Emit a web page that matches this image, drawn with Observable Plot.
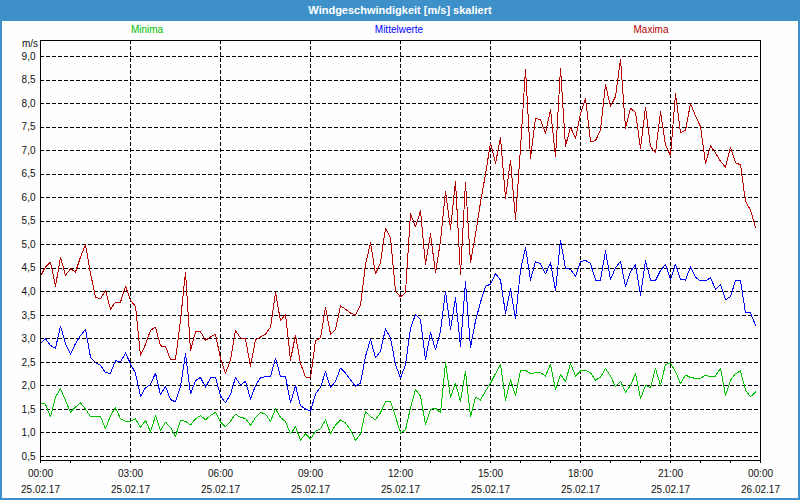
<!DOCTYPE html>
<html>
<head>
<meta charset="utf-8">
<script src="https://cdn.jsdelivr.net/npm/d3@7"></script>
<script src="https://cdn.jsdelivr.net/npm/@observablehq/plot@0.6"></script>
<style>
  html, body { margin: 0; padding: 0; background: #ffffff; }
  #wrap { position: relative; width: 800px; height: 500px; overflow: hidden; background: #fdfefd; font-family: "Liberation Sans", Arial, sans-serif; }
  #border { position: absolute; left: 0; top: 0; width: 800px; height: 500px; box-sizing: border-box; border: 2px solid #3e91c8; pointer-events: none; z-index: 5; }
  #title { position: absolute; left: 0; top: 0; width: 800px; height: 21px; background: #3e91c8; color: #ffffff; font-size: 11px; font-weight: bold; text-align: center; line-height: 21px; z-index: 6; }
  .leg { position: absolute; top: 24px; font-size: 10px; transform: translateX(-50%); white-space: nowrap; }
  #unit { position: absolute; left: 22px; top: 38px; font-size: 10px; color: #111; }
  #chart { position: absolute; left: 0; top: 21px; }
</style>
</head>
<body>
<div id="wrap">
  <div id="title"></div>
  <div id="legend"></div>
  <div id="unit"></div>
  <div id="chart"></div>
  <div id="border"></div>
</div>
<script>
const chartTitle = "Windgeschwindigkeit [m/s] skaliert";
const unitLabel = "m/s";
const seriesNames = ["Minima", "Mittelwerte", "Maxima"];
const seriesColors = ["#00c000", "#0000ff", "#b80000"];
const legendX = [147, 399, 651];

// 10-minute samples, 25.02.17 00:00 .. 23:50
const maxima = [
  4.33,4.53,4.63,4.12,4.73,4.35,4.49,4.42,4.74,5.0,
  4.39,3.89,3.85,4.03,3.63,3.78,3.78,4.12,3.82,3.69,
  2.65,2.88,3.18,3.25,2.85,2.84,2.56,2.56,3.4,4.42,
  2.75,3.15,3.15,2.97,3.04,3.1,2.58,2.27,2.55,3.18,
  3.02,3.0,2.42,2.98,3.04,3.1,3.25,3.99,3.38,3.52,
  2.55,3.08,2.48,2.19,2.17,2.96,3.02,3.67,3.1,3.2,
  3.7,3.63,3.55,3.5,3.72,4.58,5.04,4.38,4.62,5.35,
  5.15,4.01,3.89,3.98,5.66,5.38,5.72,4.58,5.23,4.4,
  5.08,6.14,5.33,6.35,4.37,6.33,4.62,5.22,5.9,6.5,
  7.16,6.73,7.28,5.99,6.8,5.54,7.05,8.73,6.84,7.69,
  7.65,7.37,7.87,6.87,8.75,7.09,7.5,7.26,7.79,8.11,
  7.19,7.21,7.44,8.4,7.94,8.15,8.94,7.48,7.9,7.81,
  7.05,7.92,7.09,6.95,7.83,7.12,6.89,8.21,7.38,7.43,
  8.0,7.74,7.51,6.73,7.1,6.95,6.77,6.65,7.07,6.74,
  6.7,5.92,5.74,5.37
];
const mittelwerte = [
  2.91,3.0,2.86,2.8,3.27,2.9,2.67,2.9,3.07,3.2,
  2.61,2.49,2.44,2.28,2.27,2.54,2.51,2.7,2.47,2.27,
  1.78,1.96,2.03,2.27,1.81,1.99,1.71,1.66,1.98,2.68,
  1.83,2.11,2.18,1.97,2.17,2.18,1.79,1.64,1.82,2.18,
  2.02,2.1,1.72,2.01,2.17,2.2,2.2,2.59,2.2,2.2,
  1.64,2.01,1.58,1.51,1.46,1.83,1.97,2.3,1.96,2.1,
  2.38,2.27,2.13,1.99,2.06,2.63,2.99,2.6,2.74,3.21,
  3.02,2.45,2.17,2.45,3.23,3.52,3.41,2.56,3.13,2.77,
  3.16,4.01,3.2,3.87,2.84,4.21,2.82,3.38,3.78,4.12,
  4.16,4.39,4.25,3.54,4.07,3.43,4.46,4.94,4.25,4.64,
  4.6,4.38,4.62,4.02,5.09,4.5,4.48,4.33,4.64,4.67,
  4.6,4.25,4.25,4.87,4.26,4.51,4.65,4.12,4.43,4.57,
  3.93,4.66,4.25,4.24,4.45,4.58,4.26,4.59,4.26,4.25,
  4.53,4.31,4.23,4.23,4.3,4.05,4.16,3.83,3.9,4.24,
  4.24,3.55,3.55,3.29
];
const minima = [
  1.64,1.61,1.34,1.76,1.94,1.69,1.44,1.55,1.64,1.51,
  1.35,1.35,1.35,1.09,1.37,1.54,1.3,1.25,1.25,1.3,
  1.12,1.27,1.02,1.37,1.05,1.23,1.12,0.93,1.27,1.25,
  1.17,1.3,1.37,1.28,1.37,1.44,1.23,1.13,1.25,1.4,
  1.33,1.31,1.16,1.33,1.44,1.4,1.25,1.51,1.33,1.24,
  0.98,1.13,0.85,0.98,0.87,1.04,1.09,1.28,0.99,1.17,
  1.28,1.21,1.07,0.84,0.98,1.45,1.35,1.28,1.43,1.66,
  1.67,1.35,1.0,1.07,1.53,1.92,1.78,1.18,1.5,1.53,
  1.43,2.49,1.76,2.06,1.67,2.31,1.35,1.76,1.7,1.89,
  2.05,2.26,2.46,1.7,2.13,1.8,2.32,2.33,2.26,2.28,
  2.28,2.21,2.46,1.92,2.25,2.09,2.48,2.21,2.32,2.33,
  2.28,2.12,2.19,2.37,2.21,1.98,2.1,1.87,2.01,2.26,
  1.73,2.01,1.96,2.37,2.01,2.46,2.48,2.3,2.05,2.23,
  2.18,2.16,2.16,2.23,2.19,2.21,2.38,1.8,2.12,2.26,
  2.32,1.91,1.77,1.87
];

const yTicks = [0.5,1.0,1.5,2.0,2.5,3.0,3.5,4.0,4.5,5.0,5.5,6.0,6.5,7.0,7.5,8.0,8.5,9.0];
const labelHours = [0,3,6,9,12,15,18,21,24];
const hourLabels = ["00:00","03:00","06:00","09:00","12:00","15:00","18:00","21:00","00:00"];
const dateLabels = ["25.02.17","25.02.17","25.02.17","25.02.17","25.02.17","25.02.17","25.02.17","25.02.17","26.02.17"];
const gridHours = [3,6,9,12,15,18,21];
const minorHours = d3.range(0, 25, 1);

document.getElementById("title").textContent = chartTitle;
document.getElementById("unit").textContent = unitLabel;
const legend = document.getElementById("legend");
seriesNames.forEach((n, k) => {
  const s = document.createElement("div");
  s.className = "leg";
  s.style.left = legendX[k] + "px";
  s.style.color = seriesColors[k];
  s.textContent = n;
  legend.appendChild(s);
});

const hourOf = (d, i) => i / 6;
const series = [minima, mittelwerte, maxima];
const dash = "4,2";

const chart = Plot.plot({
  width: 800,
  height: 479,
  marginLeft: 40,
  marginRight: 40,
  marginTop: 19,
  marginBottom: 40,
  style: { background: "transparent", fontFamily: "Liberation Sans, Arial, sans-serif", fontSize: "10px", color: "#111" },
  x: { domain: [0, 24], axis: null },
  y: { domain: [0.415, 9.34], axis: null },
  marks: [
    Plot.gridY(yTicks, { stroke: "#000", strokeOpacity: 1, strokeDasharray: dash, shapeRendering: "crispEdges" }),
    Plot.gridX(gridHours, { stroke: "#000", strokeOpacity: 1, strokeDasharray: dash, shapeRendering: "crispEdges" }),
    Plot.axisY(yTicks, { tickSize: 0, tickPadding: 5, tickFormat: d => d.toFixed(1).replace(".", ","), label: null }),
    Plot.axisX(minorHours, { tickSize: 3, tickFormat: () => "", label: null, stroke: "#000" }),
    Plot.axisX(labelHours, { tickSize: 0, tickPadding: 9, tickFormat: d => hourLabels[labelHours.indexOf(d)], label: null }),
    Plot.axisX(labelHours, { tickSize: 0, tickPadding: 25, tickFormat: d => dateLabels[labelHours.indexOf(d)], label: null }),
    ...series.map((s, k) => Plot.lineY(s, { x: hourOf, y: d => d, stroke: seriesColors[k], strokeWidth: 1, shapeRendering: "crispEdges" })),
    Plot.frame({ stroke: "#000", shapeRendering: "crispEdges" })
  ]
});
document.getElementById("chart").appendChild(chart);
</script>
</body>
</html>
